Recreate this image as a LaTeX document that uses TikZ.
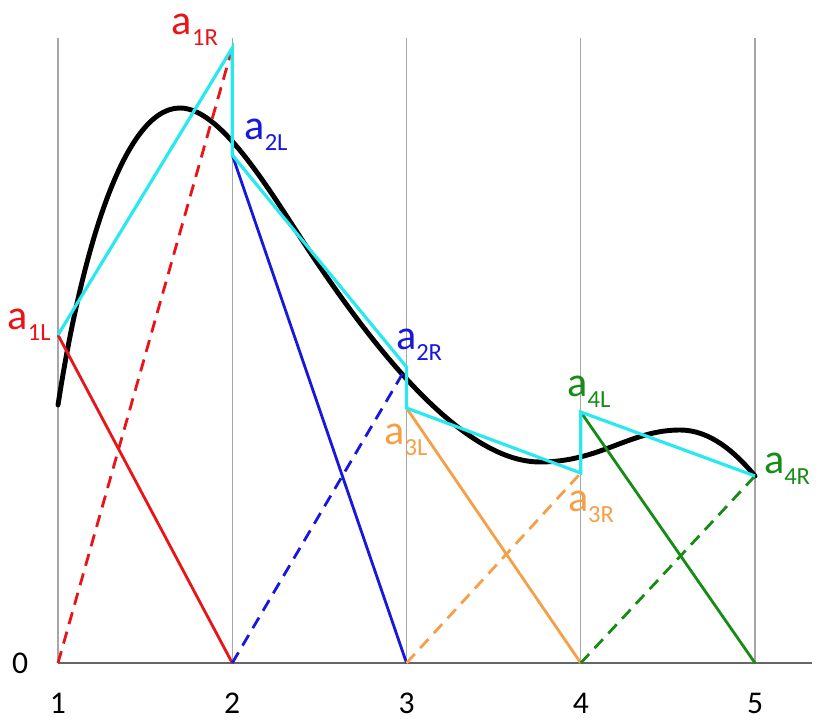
\documentclass[tikz,border=0pt]{standalone}
\usepackage{fontspec}
\setmainfont{Carlito}
\definecolor{lred}{RGB}{232,20,24}
\definecolor{lblue}{RGB}{24,24,220}
\definecolor{lorange}{RGB}{245,160,72}
\definecolor{lgreen}{RGB}{22,140,22}
\definecolor{lcyan}{RGB}{40,232,240}
\newcommand{\alab}[1]{a\raisebox{-6pt}{\fontsize{14}{14}\selectfont #1}}
\tikzset{
  grid line/.style={draw=black!35,line width=0.6pt},
  solid part/.style={line width=1.6pt},
  dash part/.style={line width=1.6pt,dash pattern=on 7pt off 4.5pt},
  alabel/.style={font=\fontsize{24}{24}\selectfont,inner sep=0pt}
}

\begin{document}
\begin{tikzpicture}[x=3.485cm,y=2cm]
  \useasboundingbox (0.6671,-0.57) rectangle (5.4304,6.63);
  % grid and axis
  \foreach \x in {1,...,5} {
    \coordinate (b\x) at (\x,0);
    \draw[grid line] (\x,6.25) -- (b\x);
    \node[font=\fontsize{18}{18}\selectfont] (n\x) at (\x,-0.40) {\x};
  }
  \coordinate (bend) at (5.327,0);
  \draw[draw=black!60,line width=1.5pt] (b1) -- (bend);
  \node[font=\fontsize{18}{18}\selectfont] (zero) at (0.782,0) {0};
  % end points
  \coordinate (a1L) at (1,3.28);
  \coordinate (a1R) at (2,6.15);
  \coordinate (a2L) at (2,5.08);
  \coordinate (a2R) at (3,2.96);
  \coordinate (a3L) at (3,2.55);
  \coordinate (a3R) at (4,1.90);
  \coordinate (a4L) at (4,2.51);
  \coordinate (a4R) at (5,1.87);
  % the function
  \draw[line width=2.8pt,line cap=round]
    (1,2.58) .. controls (1.13,4.05) and (1.37,5.55) .. (1.70,5.55)
             .. controls (1.96,5.55) and (2.27,4.55) .. (2.5036,3.96)
             .. controls (2.7905,3.23) and (3.3070,2.01) .. (3.7661,2.01)
             .. controls (4.1105,2.01) and (4.2826,2.33) .. (4.5696,2.33)
             .. controls (4.7418,2.33) and (4.8852,2.11) .. (a4R);
  % hat functions
  \draw[lred,solid part] (a1L) -- (b2);
  \draw[lred,dash part] (b1) -- (a1R);
  \draw[lblue,solid part] (a2L) -- (b3);
  \draw[lblue,dash part] (b2) -- (a2R);
  \draw[lorange,solid part] (a3L) -- (b4);
  \draw[lorange,dash part] (b3) -- (a3R);
  \draw[lgreen,solid part] (a4L) -- (b5);
  \draw[lgreen,dash part] (b4) -- (a4R);
  % approximation
  \draw[lcyan,line width=1.8pt,line join=miter]
    (a1L) -- (a1R) -- (a2L) -- (a2R) -- (a3L) -- (a3R) -- (a4L) -- (a4R);
  % labels
  \node[alabel,text=lred]    (l1L) at (0.834,3.38) {\alab{1L}};
  \node[alabel,text=lred]    (l1R) at (1.786,6.33) {\alab{1R}};
  \node[alabel,text=lblue]   (l2L) at (2.194,5.28) {\alab{2L}};
  \node[alabel,text=lblue]   (l2R) at (3.072,3.18) {\alab{2R}};
  \node[alabel,text=lorange] (l3L) at (2.997,2.23) {\alab{3L}};
  \node[alabel,text=lorange] (l3R) at (4.059,1.56) {\alab{3R}};
  \node[alabel,text=lgreen]  (l4L) at (4.047,2.71) {\alab{4L}};
  \node[alabel,text=lgreen]  (l4R) at (5.184,1.94) {\alab{4R}};
\end{tikzpicture}
\end{document}
